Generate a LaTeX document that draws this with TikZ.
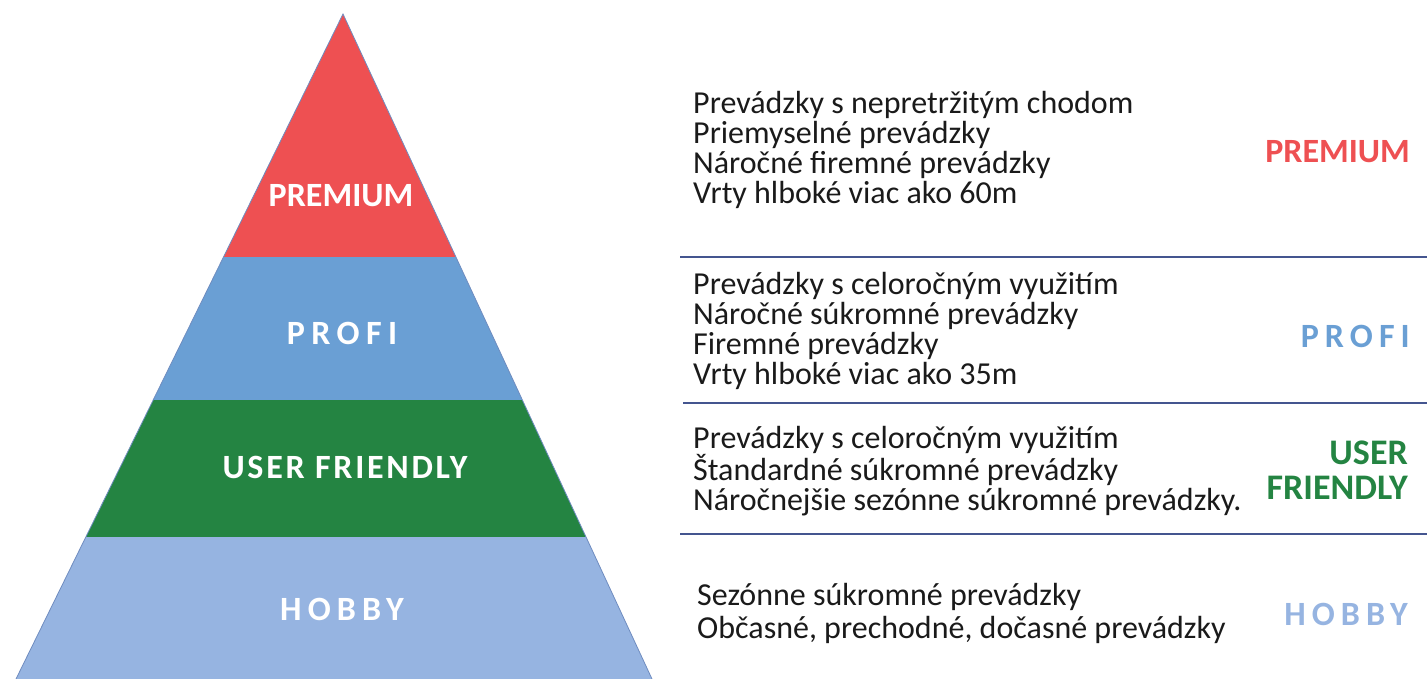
\documentclass[tikz,border=0pt]{standalone}
\usepackage{fontspec}
\setmainfont{Carlito}
\definecolor{cPrem}{HTML}{EE5052}
\definecolor{cProfi}{HTML}{6A9FD4}
\definecolor{cUser}{HTML}{248442}
\definecolor{cHobby}{HTML}{96B4E1}
\definecolor{cEdge}{HTML}{6F8CBF}
\definecolor{cSep}{HTML}{44558F}
\definecolor{cText}{HTML}{1A1A1A}
\tikzset{
  pyrlabel/.style={text=white, inner sep=0pt, font=\fontsize{34}{36}\selectfont\bfseries},
  desc/.style={anchor=west, align=left, text=cText, inner sep=0pt, font=\fontsize{32}{30}\selectfont},
  sidelabel/.style={anchor=east, align=right, inner sep=0pt, font=\fontsize{34}{35}\selectfont\bfseries},
  sepline/.style={draw=cSep, line width=1.6pt},
}
\begin{document}
\begin{tikzpicture}[x=1pt,y=-1pt]
\useasboundingbox (0,0) rectangle (1427,679);
% pyramid corners
\coordinate (apex) at (343,14);
\coordinate (l1) at (223.5,257); \coordinate (r1) at (455.9,257);
\coordinate (l2) at (153.2,400); \coordinate (r2) at (522.4,400);
\coordinate (l3) at (85.8,537);  \coordinate (r3) at (586.0,537);
\coordinate (l4) at (16,679);    \coordinate (r4) at (652,679);
\fill[cPrem] (apex) -- (r1) -- (l1) -- cycle;
\fill[cProfi] (l1) -- (r1) -- (r2) -- (l2) -- cycle;
\fill[cUser] (l2) -- (r2) -- (r3) -- (l3) -- cycle;
\fill[cHobby] (l3) -- (r3) -- (r4) -- (l4) -- cycle;
\draw[cEdge, line width=0.8pt] (l4) -- (apex) -- (r4);
% pyramid labels
\node[pyrlabel] (pPrem) at (341,196) {PREMIUM};
\node[pyrlabel] (pProfi) at (342,333) {\addfontfeature{LetterSpace=19}PROFI};
\node[pyrlabel] (pUser) at (345,467) {\addfontfeature{LetterSpace=8}USER FRIENDLY};
\node[pyrlabel] (pHobby) at (342,609) {\addfontfeature{LetterSpace=18}HOBBY};
% separators
\coordinate (s1a) at (680,257); \coordinate (s1b) at (1427,257);
\coordinate (s2a) at (683,403); \coordinate (s2b) at (1427,403);
\coordinate (s3a) at (680,534); \coordinate (s3b) at (1427,534);
\draw[sepline] (s1a) -- (s1b);
\draw[sepline] (s2a) -- (s2b);
\draw[sepline] (s3a) -- (s3b);
% descriptions
\node[desc] (dPrem) at (693,150) {Prevádzky s nepretržitým chodom\\Priemyselné prevádzky\\Náročné firemné prevádzky\\Vrty hlboké viac ako 60m};
\node[desc] (dProfi) at (693,331) {Prevádzky s celoročným využitím\\Náročné súkromné prevádzky\\Firemné prevádzky\\Vrty hlboké viac ako 35m};
\node[desc] (dUser) at (693,471) {Prevádzky s celoročným využitím\\Štandardné súkromné prevádzky\\Náročnejšie sezónne súkromné prevádzky.};
\node[desc, font=\fontsize{32}{33}\selectfont] (dHobby) at (697,613) {Sezónne súkromné prevádzky\\Občasné, prechodné, dočasné prevádzky};
% side labels
\node[sidelabel, text=cPrem] (sPrem) at (1410,152) {PREMIUM};
\node[sidelabel, text=cProfi] (sProfi) at (1410,336) {\addfontfeature{LetterSpace=18}PROFI};
\node[sidelabel, text=cUser, font=\fontsize{36}{35}\selectfont\bfseries] (sUser) at (1408,470) {USER\\FRIENDLY};
\node[sidelabel, text=cHobby] (sHobby) at (1408,614) {\addfontfeature{LetterSpace=18}HOBBY};
\end{tikzpicture}
\end{document}
